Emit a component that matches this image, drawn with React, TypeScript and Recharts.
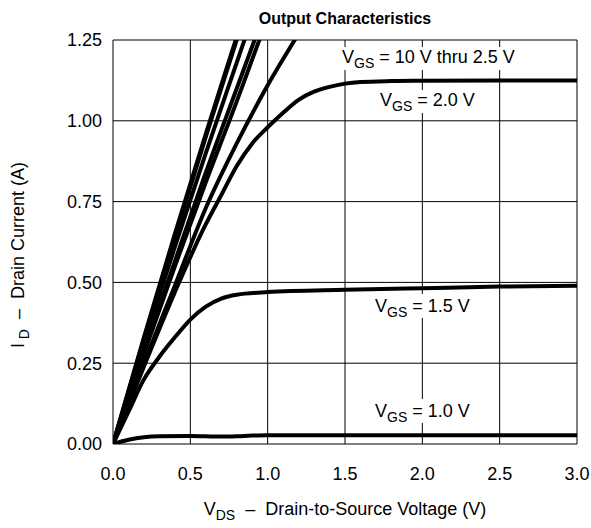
import React from "react";
import {
  LineChart,
  Line,
  XAxis,
  YAxis,
  CartesianGrid,
  Customized,
} from "recharts";

// V_DS sample points (V)
const vdsSteep = [0, 0.2, 0.4, 0.6, 0.8, 0.9, 1.0];
const vds25 = [0, 0.2, 0.4, 0.6, 0.8, 1.0, 1.2, 1.3];
const vds20 = [0, 0.2, 0.4, 0.6, 0.7, 0.8, 0.9, 1.0, 1.1, 1.2, 1.3, 1.4, 1.5, 1.6, 1.8, 2.0, 2.5, 3.0];
const vds15 = [0, 0.1, 0.2, 0.3, 0.4, 0.5, 0.6, 0.7, 0.8, 1.0, 1.5, 2.0, 2.5, 3.0];
const vds10 = [0, 0.1, 0.2, 0.3, 0.5, 0.7, 0.8, 0.9, 1.0, 1.5, 2.0, 2.5, 3.0];

// I_D per gate voltage (A)
const id10V = [0, 0.33, 0.65, 0.96, 1.26, 1.41, 1.56];
const id45V = [0, 0.325, 0.64, 0.95, 1.25, 1.4, 1.55];
const id40V = [0, 0.31, 0.61, 0.9, 1.18, 1.32, 1.46];
const id35V = [0, 0.285, 0.565, 0.84, 1.1, 1.23, 1.36];
const id30V = [0, 0.28, 0.55, 0.81, 1.06, 1.19, 1.32];
const id25V = [0, 0.25, 0.49, 0.73, 0.93, 1.11, 1.27, 1.35];
const id20V = [0, 0.24, 0.47, 0.68, 0.77, 0.86, 0.93, 0.98, 1.025, 1.065, 1.09, 1.105, 1.115, 1.12, 1.123, 1.124, 1.125, 1.125];
const id15V = [0, 0.1, 0.2, 0.27, 0.33, 0.385, 0.425, 0.45, 0.462, 0.47, 0.477, 0.482, 0.487, 0.49];
const id10Vlow = [0, 0.013, 0.021, 0.024, 0.025, 0.023, 0.024, 0.026, 0.027, 0.027, 0.027, 0.027, 0.027];

const xTicks = [0, 0.5, 1.0, 1.5, 2.0, 2.5, 3.0];
const yTicks = [0, 0.25, 0.5, 0.75, 1.0, 1.25];

const zip = (v: number[], i: number[]) => v.map((x, k) => ({ v: x, i: i[k] }));

const curves = [
  { name: "10 V", data: zip(vdsSteep, id10V) },
  { name: "4.5 V", data: zip(vdsSteep, id45V) },
  { name: "4.0 V", data: zip(vdsSteep, id40V) },
  { name: "3.5 V", data: zip(vdsSteep, id35V) },
  { name: "3.0 V", data: zip(vdsSteep, id30V) },
  { name: "2.5 V", data: zip(vds25, id25V) },
  { name: "2.0 V", data: zip(vds20, id20V) },
  { name: "1.5 V", data: zip(vds15, id15V) },
  { name: "1.0 V", data: zip(vds10, id10Vlow) },
];

const FONT = "'Liberation Sans', Arial, Helvetica, sans-serif";

function XTick(props: any) {
  const { x, y, payload } = props;
  return (
    <text x={x} y={y} dy={13} textAnchor="middle" fontSize={18} fontFamily={FONT} fill="#000">
      {Number(payload.value).toFixed(1)}
    </text>
  );
}

function VgsLabel({ x, y, text, box }: { x: number; y: number; text: string; box: [number, number, number, number] }) {
  return (
    <g>
      <rect x={box[0]} y={box[1]} width={box[2]} height={box[3]} fill="#fff" />
      <text x={x} y={y} fontSize={18} fontFamily={FONT} fill="#000">
        V
        <tspan fontSize={14} dy={5}>GS</tspan>
        <tspan dy={-5}>{text}</tspan>
      </text>
    </g>
  );
}

function Annotations() {
  return (
    <g>
      <text x={345} y={24} textAnchor="middle" fontSize={16} fontWeight="bold" fontFamily={FONT} fill="#000">
        Output Characteristics
      </text>
      <VgsLabel x={342} y={63} text=" = 10 V thru 2.5 V" box={[339, 47, 184, 23]} />
      <VgsLabel x={380} y={106} text=" = 2.0 V" box={[376, 90, 94, 23]} />
      <VgsLabel x={375} y={312} text=" = 1.5 V" box={[370, 294, 106, 24]} />
      <VgsLabel x={375} y={417} text=" = 1.0 V" box={[370, 399, 106, 24]} />
      <text
        x={345}
        y={515}
        textAnchor="middle"
        fontSize={18}
        fontFamily={FONT}
        fill="#000"
        style={{ whiteSpace: "pre" }}
      >
        V
        <tspan fontSize={14} dy={5}>DS</tspan>
        <tspan dy={-5}>{"  \u2013  Drain-to-Source Voltage (V)"}</tspan>
      </text>
      <text
        x={24}
        y={255}
        textAnchor="middle"
        fontSize={18}
        fontFamily={FONT}
        fill="#000"
        style={{ whiteSpace: "pre" }}
        transform="rotate(-90, 24, 255)"
      >
        I
        <tspan fontSize={14} dy={5}>{" D"}</tspan>
        <tspan dy={-5}>{"  \u2013  Drain Current (A)"}</tspan>
      </text>
    </g>
  );
}

export default function App() {
  return (
    <div style={{ position: "fixed", left: 0, top: 0, width: 591, height: 528, background: "#fff" }}>
      <style>{"html,body{overflow:hidden;margin:0;}"}</style>
      <LineChart
        width={591}
        height={528}
        margin={{ top: 40, right: 14, bottom: 44, left: 53 }}
        style={{ overflow: "visible" }}
      >
        <CartesianGrid stroke="#000" strokeWidth={1} />
        <XAxis
          type="number"
          dataKey="v"
          domain={[0, 3]}
          ticks={xTicks}
          interval={0}
          allowDataOverflow
          height={40}
          axisLine={false}
          tickLine={false}
          tickSize={6}
          tickMargin={17}
          tick={<XTick />}
        />
        <YAxis
          type="number"
          dataKey="i"
          domain={[0, 1.25]}
          ticks={yTicks}
          allowDataOverflow
          width={60}
          axisLine={false}
          tickLine={false}
          tickSize={6}
          tickMargin={5}
          tickFormatter={(v: number) => v.toFixed(2)}
          tick={{ fill: "#000", fontSize: 18, fontFamily: FONT }}
        />
        {curves.map((c) => (
          <Line
            key={c.name}
            data={c.data}
            dataKey="i"
            type="monotone"
            stroke="#000"
            strokeWidth={4}
            dot={false}
            isAnimationActive={false}
          />
        ))}
        <Customized component={<Annotations />} />
      </LineChart>
    </div>
  );
}
